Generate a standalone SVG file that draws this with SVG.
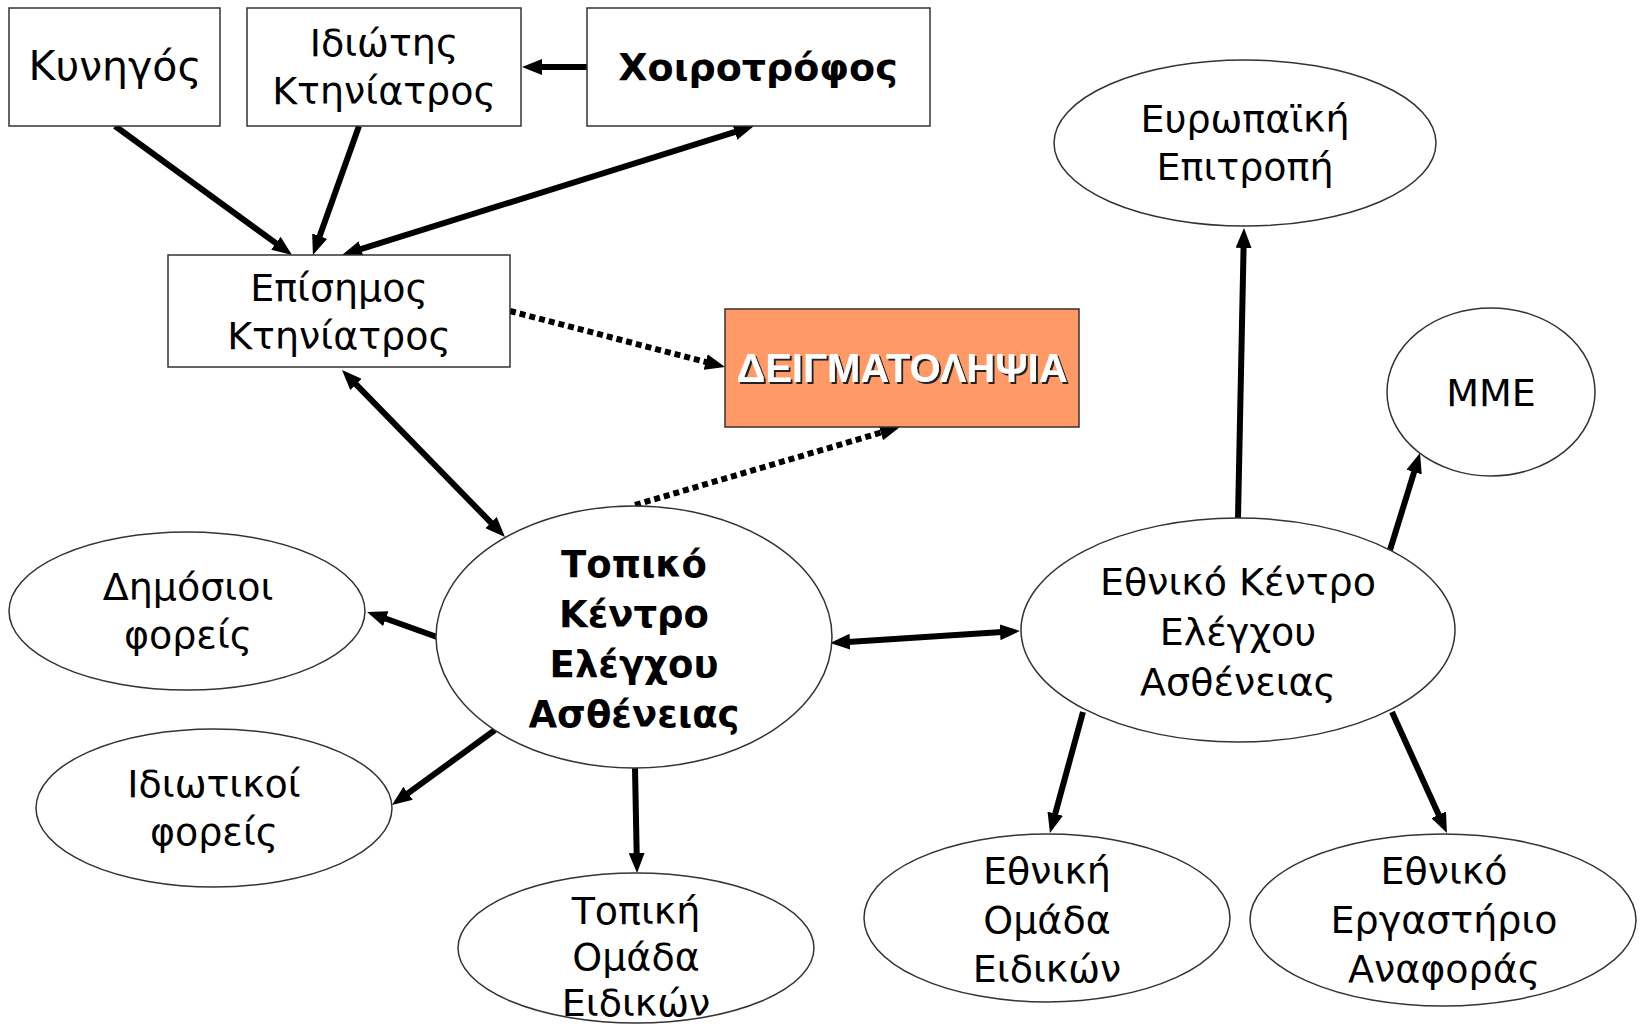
<svg xmlns="http://www.w3.org/2000/svg" width="1642" height="1026" viewBox="0 0 1642 1026">
<style>
.box{fill:#fff;stroke:#333;stroke-width:1.5}
.ell{fill:#fff;stroke:#333;stroke-width:1.5}
.t{font-family:"DejaVu Sans","Liberation Sans",sans-serif;font-size:38px;fill:#000;text-anchor:middle}
.b{font-weight:bold;font-size:37px}
.c{fill:none;stroke:#000;stroke-width:6}
.d{fill:none;stroke:#000;stroke-width:6;stroke-dasharray:6 4}
</style>
<defs>
<marker id="ah" viewBox="0 0 20 16" markerWidth="20" markerHeight="16" refX="2" refY="8" markerUnits="userSpaceOnUse" orient="auto-start-reverse">
<path d="M0,0 L20,8 L0,16 z" fill="#000"/>
</marker>
<filter id="sh" x="-5%" y="-20%" width="110%" height="140%">
<feDropShadow dx="2" dy="2" stdDeviation="0.4" flood-color="#222" flood-opacity="1"/>
</filter>
</defs>
<rect width="1642" height="1026" fill="#fff"/>

<g id="connectors">
<line class="c" x1="115" y1="126" x2="277.5" y2="244.4" marker-end="url(#ah)"/>
<line class="c" x1="359" y1="126" x2="319" y2="238" marker-end="url(#ah)"/>
<line class="c" x1="587" y1="67" x2="540" y2="67" stroke-width="7" marker-end="url(#ah)"/>
<line class="c" x1="359.2" y1="249.6" x2="736.8" y2="131.4" marker-start="url(#ah)" marker-end="url(#ah)"/>
<line class="d" x1="510" y1="311" x2="707.6" y2="362.5" marker-end="url(#ah)"/>
<line class="d" x1="635" y1="505" x2="882.7" y2="432.1" marker-end="url(#ah)"/>
<line class="c" x1="354.6" y1="382.9" x2="492.4" y2="524.1" marker-start="url(#ah)" marker-end="url(#ah)"/>
<line class="c" x1="437" y1="637" x2="384" y2="618" marker-end="url(#ah)"/>
<line class="c" x1="495" y1="730" x2="406.5" y2="794.4" marker-end="url(#ah)"/>
<line class="c" x1="635" y1="768" x2="636.7" y2="855" marker-end="url(#ah)"/>
<line class="c" x1="848" y1="641.9" x2="1002" y2="632.1" marker-start="url(#ah)" marker-end="url(#ah)"/>
<line class="c" x1="1238" y1="518" x2="1243.6" y2="246" marker-end="url(#ah)"/>
<line class="c" x1="1390" y1="550" x2="1414.7" y2="470.2" marker-end="url(#ah)"/>
<line class="c" x1="1083" y1="712" x2="1054.7" y2="815.6" marker-end="url(#ah)"/>
<line class="c" x1="1392" y1="712" x2="1439.5" y2="816.6" marker-end="url(#ah)"/>
</g>

<g id="kynigos">
<rect class="box" x="9" y="8" width="211" height="118"/>
<text class="t" x="115" y="80" style="font-size:41px">Κυνηγός</text>
</g>
<g id="idiotis-ktiniatros">
<rect class="box" x="247" y="8" width="274" height="118"/>
<text class="t" x="384" y="56">Ιδιώτης</text>
<text class="t" x="384" y="104">Κτηνίατρος</text>
</g>
<g id="xoirotrofos">
<rect class="box" x="587" y="8" width="343" height="118"/>
<text class="t b" x="758" y="80" style="font-size:38px">Χοιροτρόφος</text>
</g>
<g id="episimos-ktiniatros">
<rect class="box" x="168" y="255" width="342" height="112"/>
<text class="t" x="339" y="301">Επίσημος</text>
<text class="t" x="339" y="349">Κτηνίατρος</text>
</g>
<g id="deigmatolipsia">
<rect x="725" y="309" width="354" height="118" fill="#FF9966" stroke="#333" stroke-width="1.5"/>
<text x="902" y="382" font-family="'Liberation Sans',Arial,sans-serif" font-size="40" font-weight="bold" fill="#fff" text-anchor="middle" filter="url(#sh)">ΔΕΙΓΜΑΤΟΛΗΨΙΑ</text>
</g>
<g id="evropaiki-epitropi">
<ellipse class="ell" cx="1245" cy="143" rx="191" ry="83"/>
<text class="t" x="1245" y="132">Ευρωπαϊκή</text>
<text class="t" x="1245" y="180">Επιτροπή</text>
</g>
<g id="mme">
<ellipse class="ell" cx="1491" cy="392" rx="104" ry="84"/>
<text class="t" x="1491" y="406">ΜΜΕ</text>
</g>
<g id="topiko-kentro">
<ellipse class="ell" cx="634" cy="637" rx="198" ry="131"/>
<text class="t b" x="634" y="577">Τοπικό</text>
<text class="t b" x="634" y="627">Κέντρο</text>
<text class="t b" x="634" y="677">Ελέγχου</text>
<text class="t b" x="634" y="727">Ασθένειας</text>
</g>
<g id="dimosioi-foreis">
<ellipse class="ell" cx="187" cy="611" rx="178" ry="79"/>
<text class="t" x="188" y="600">Δημόσιοι</text>
<text class="t" x="188" y="648">φορείς</text>
</g>
<g id="idiotikoi-foreis">
<ellipse class="ell" cx="214" cy="808" rx="178" ry="79"/>
<text class="t" x="214" y="797">Ιδιωτικοί</text>
<text class="t" x="214" y="845">φορείς</text>
</g>
<g id="topiki-omada">
<ellipse class="ell" cx="636" cy="948" rx="178" ry="75"/>
<text class="t" x="636" y="924">Τοπική</text>
<text class="t" x="636" y="970">Ομάδα</text>
<text class="t" x="636" y="1016">Ειδικών</text>
</g>
<g id="ethniko-kentro">
<ellipse class="ell" cx="1238" cy="630" rx="217" ry="112"/>
<text class="t" x="1238" y="595">Εθνικό Κέντρο</text>
<text class="t" x="1238" y="645">Ελέγχου</text>
<text class="t" x="1238" y="695">Ασθένειας</text>
</g>
<g id="ethniki-omada">
<ellipse class="ell" cx="1047" cy="918" rx="183" ry="84"/>
<text class="t" x="1047" y="884">Εθνική</text>
<text class="t" x="1047" y="933">Ομάδα</text>
<text class="t" x="1047" y="982">Ειδικών</text>
</g>
<g id="ethniko-ergastirio">
<ellipse class="ell" cx="1443" cy="920" rx="193" ry="86"/>
<text class="t" x="1444" y="884">Εθνικό</text>
<text class="t" x="1444" y="933">Εργαστήριο</text>
<text class="t" x="1444" y="982">Αναφοράς</text>
</g>
</svg>
